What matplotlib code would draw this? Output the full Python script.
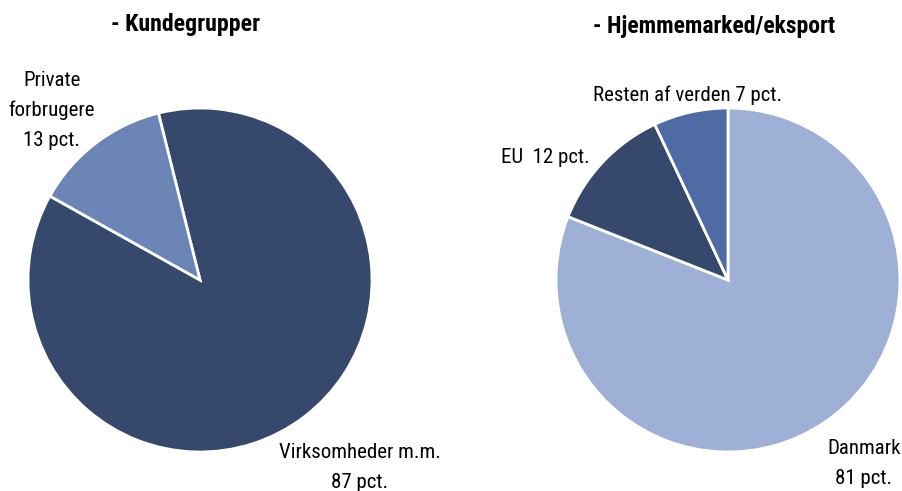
import matplotlib
matplotlib.use("Agg")
import matplotlib.pyplot as plt

plt.rcParams['font.family'] = ["Roboto Condensed", "DejaVu Sans"]

# Data
kunde_labels = ["Virksomheder m.m.", "Private forbrugere"]
kunde_values = [87, 13]
kunde_colors = ["#36486C", "#6B86B6"]

marked_labels = ["Danmark", "EU", "Resten af verden"]
marked_values = [81, 12, 7]
marked_colors = ["#9EB0D5", "#36486C", "#4E6BA4"]

W, H = 903, 491
fig = plt.figure(figsize=(W / 100, H / 100), dpi=100)

def axes_px(cx, cy, r):
    return fig.add_axes([(cx - r) / W, (H - cy - r) / H, 2 * r / W, 2 * r / H])

def txt(x, y, s, **kw):
    fig.text(x / W, 1 - y / H, s, ha="center", va="center", **kw)

wp = dict(edgecolor="white", linewidth=2)

ax1 = axes_px(200, 280, 172)
ax1.pie(kunde_values, colors=kunde_colors, startangle=104, counterclock=False,
        wedgeprops=wp, radius=1)
ax1.set_xlim(-1, 1); ax1.set_ylim(-1, 1); ax1.set_aspect("equal"); ax1.axis("off")

ax2 = axes_px(728, 280, 172)
ax2.pie(marked_values, colors=marked_colors, startangle=90, counterclock=False,
        wedgeprops=wp, radius=1)
ax2.set_xlim(-1, 1); ax2.set_ylim(-1, 1); ax2.set_aspect("equal"); ax2.axis("off")

fs = 15
txt(186, 24, "- Kundegrupper", fontsize=17.2, fontweight="bold")
txt(714, 27, "- Hjemmemarked/eksport", fontsize=17, fontweight="bold")

txt(52, 80, "Private", fontsize=fs)
txt(52, 110, "forbrugere", fontsize=fs)
txt(52, 140, f"{kunde_values[1]} pct.", fontsize=fs)

txt(360, 453, kunde_labels[0], fontsize=fs)
txt(360, 482, f"{kunde_values[0]} pct.", fontsize=fs)

txt(864, 448, marked_labels[0], fontsize=fs)
txt(864, 478, f"{marked_values[0]} pct.", fontsize=fs)

txt(545, 157, f"{marked_labels[1]}  {marked_values[1]} pct.", fontsize=fs)
txt(688, 95, f"{marked_labels[2]} {marked_values[2]} pct.", fontsize=fs)

fig.savefig("out.png", dpi=100)
